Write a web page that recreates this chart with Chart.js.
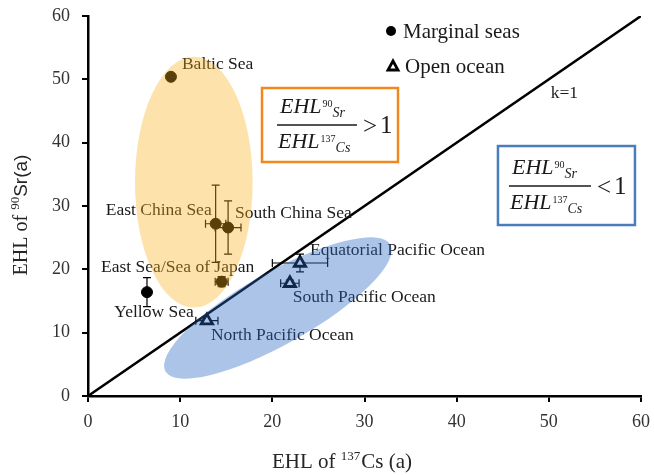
<!DOCTYPE html>
<html>
<head>
<meta charset="utf-8">
<script src="https://cdn.jsdelivr.net/npm/chart.js@4.4.0/dist/chart.umd.min.js"></script>
<style>
  html, body { margin: 0; padding: 0; background: #fff; }
  #wrap { width: 654px; height: 475px; }
</style>
</head>
<body>
<div id="wrap"><canvas id="c"></canvas></div>
<script>
// marginal seas
const seaNames = ['Baltic Sea', 'East China Sea', 'South China Sea', 'East Sea/Sea of Japan', 'Yellow Sea'];
const seaCs = [9.0, 13.85, 15.2, 14.5, 6.4];
const seaSr = [50.4, 27.2, 26.6, 18.05, 16.4];
const seaCsErr = [0, 1.1, 1.4, 0.7, 0];
const seaSrErr = [0, 6.1, 4.2, 0.8, 2.3];

// open ocean
const oceanNames = ['Equatorial Pacific Ocean', 'South Pacific Ocean', 'North Pacific Ocean'];
const oceanCs = [23.0, 21.9, 12.9];
const oceanSr = [21.0, 17.8, 11.9];
const oceanCsErr = [3.0, 1.0, 1.2];
const oceanSrErr = [1.4, 0.5, 0];

// k=1 reference line ends
const kLineX = [0, 60];
const axisMin = 0, axisMax = 60, axisStep = 10;

// label placement (px offset from the point, alignment)
const seaLabelPos = [[11, -12, 'left'], [-4, -13, 'right'], [7, -14, 'left'], [-44, -14, 'center'], [7, 20, 'center']];
const oceanLabelPos = [[10, -13, 'left'], [3, 14, 'left'], [4, 15, 'left']];

const SERIF = '"Liberation Serif", "Times New Roman", serif';
const INK = '#1a1a1a';

function pts(xs, ys) { return xs.map((x, i) => ({ x: x, y: ys[i] })); }

const errorBars = {
  id: 'errorBars',
  beforeDatasetsDraw(chart) {
    const ctx = chart.ctx, sx = chart.scales.x, sy = chart.scales.y;
    const groups = [[seaCs, seaSr, seaCsErr, seaSrErr], [oceanCs, oceanSr, oceanCsErr, oceanSrErr]];
    ctx.save();
    ctx.strokeStyle = '#000';
    ctx.lineWidth = 1.2;
    const cap = 4;
    groups.forEach(([xs, ys, ex, ey]) => {
      xs.forEach((x, i) => {
        const px = sx.getPixelForValue(x), py = sy.getPixelForValue(ys[i]);
        ctx.beginPath();
        if (ey[i] > 0) {
          const t = sy.getPixelForValue(ys[i] + ey[i]), b = sy.getPixelForValue(ys[i] - ey[i]);
          ctx.moveTo(px, t); ctx.lineTo(px, b);
          ctx.moveTo(px - cap, t); ctx.lineTo(px + cap, t);
          ctx.moveTo(px - cap, b); ctx.lineTo(px + cap, b);
        }
        if (ex[i] > 0) {
          const l = sx.getPixelForValue(x - ex[i]), r = sx.getPixelForValue(x + ex[i]);
          ctx.moveTo(l, py); ctx.lineTo(r, py);
          ctx.moveTo(l, py - cap); ctx.lineTo(l, py + cap);
          ctx.moveTo(r, py - cap); ctx.lineTo(r, py + cap);
        }
        ctx.stroke();
      });
    });
    ctx.restore();
  }
};

function drawFrac(ctx, x0, lineY, lineW, sign) {
  ctx.save();
  ctx.fillStyle = INK;
  ctx.textBaseline = 'alphabetic';
  ctx.textAlign = 'left';
  const parts = (bx, by, iso, el) => {
    ctx.font = 'italic 22px ' + SERIF;
    ctx.fillText('EHL', bx, by);
    let w = ctx.measureText('EHL').width;
    ctx.font = '10px ' + SERIF;
    ctx.fillText(iso, bx + w + 1, by - 6);
    const w2 = ctx.measureText(iso).width;
    ctx.font = 'italic 14px ' + SERIF;
    ctx.fillText(el, bx + w + 1 + w2, by + 4);
  };
  parts(x0 + 3, lineY - 12, '90', 'Sr');
  ctx.strokeStyle = INK;
  ctx.lineWidth = 1.3;
  ctx.beginPath();
  ctx.moveTo(x0, lineY); ctx.lineTo(x0 + lineW, lineY);
  ctx.stroke();
  parts(x0 + 1, lineY + 23, '137', 'Cs');
  ctx.font = '25px ' + SERIF;
  ctx.textBaseline = 'middle';
  ctx.fillText(sign, x0 + lineW + 6, lineY + 2);
  ctx.fillText('1', x0 + lineW + 23, lineY + 1);
  ctx.restore();
}

const overlay = {
  id: 'overlay',
  afterDatasetsDraw(chart) {
    const ctx = chart.ctx, sx = chart.scales.x, sy = chart.scales.y;
    ctx.save();
    // point labels
    ctx.font = '17.5px ' + SERIF;
    ctx.fillStyle = INK;
    ctx.textBaseline = 'middle';
    const lab = (names, xs, ys, pos) => names.forEach((n, i) => {
      ctx.textAlign = pos[i][2];
      ctx.fillText(n, sx.getPixelForValue(xs[i]) + pos[i][0], sy.getPixelForValue(ys[i]) + pos[i][1]);
    });
    lab(seaNames, seaCs, seaSr, seaLabelPos);
    lab(oceanNames, oceanCs, oceanSr, oceanLabelPos);
    ctx.textAlign = 'left';
    ctx.fillText('k=1', sx.getPixelForValue(50.2), sy.getPixelForValue(47.8));

    // shaded groups (drawn over the marks, translucent)
    const oc = [11.48, 33.76], orad = [6.38, 19.8];
    const ocx = sx.getPixelForValue(oc[0]), ocy = sy.getPixelForValue(oc[1]);
    ctx.fillStyle = 'rgba(250,176,22,0.36)';
    ctx.beginPath();
    ctx.ellipse(ocx, ocy,
      sx.getPixelForValue(oc[0] + orad[0]) - ocx,
      ocy - sy.getPixelForValue(oc[1] + orad[1]), 0, 0, Math.PI * 2);
    ctx.fill();

    const bFrom = [8.4, 3.9], bTo = [32.8, 23.9];
    const x1 = sx.getPixelForValue(bFrom[0]), y1 = sy.getPixelForValue(bFrom[1]);
    const x2 = sx.getPixelForValue(bTo[0]), y2 = sy.getPixelForValue(bTo[1]);
    ctx.fillStyle = 'rgba(38,103,192,0.39)';
    ctx.beginPath();
    ctx.ellipse((x1 + x2) / 2, (y1 + y2) / 2, Math.hypot(x2 - x1, y2 - y1) / 2, 36,
      Math.atan2(y2 - y1, x2 - x1), 0, Math.PI * 2);
    ctx.fill();

    // ratio boxes
    const boxes = [
      { at: [18.88, 48.63], w: 136, h: 74, color: '#f0891c', lx: 15, ly: 37, lw: 80, sign: '>' },
      { at: [44.48, 39.47], w: 137, h: 79, color: '#4a7ebb', lx: 11, ly: 40, lw: 82, sign: '<' }
    ];
    boxes.forEach(b => {
      const bx = sx.getPixelForValue(b.at[0]), by = sy.getPixelForValue(b.at[1]);
      ctx.fillStyle = '#fff';
      ctx.fillRect(bx, by, b.w, b.h);
      ctx.strokeStyle = b.color;
      ctx.lineWidth = 2.5;
      ctx.strokeRect(bx, by, b.w, b.h);
      drawFrac(ctx, bx + b.lx, by + b.ly, b.lw, b.sign);
    });

    // legend
    ctx.fillStyle = '#000';
    ctx.beginPath();
    ctx.arc(391, 31, 5, 0, Math.PI * 2);
    ctx.fill();
    ctx.strokeStyle = '#000';
    ctx.lineWidth = 2.8;
    ctx.beginPath();
    ctx.moveTo(393, 61); ctx.lineTo(398, 70); ctx.lineTo(388, 70); ctx.closePath();
    ctx.stroke();
    ctx.font = '21px ' + SERIF;
    ctx.fillStyle = INK;
    ctx.textAlign = 'left';
    ctx.textBaseline = 'middle';
    ctx.fillText('Marginal seas', 403, 32);
    ctx.fillText('Open ocean', 405, 67);
    ctx.restore();
  },
  afterDraw(chart) {
    const ctx = chart.ctx;
    ctx.save();
    ctx.fillStyle = '#262626';
    ctx.textBaseline = 'alphabetic';
    ctx.textAlign = 'left';
    // x title
    const a = 'EHL of ', s = '137', b = 'Cs (a)';
    ctx.font = '21px ' + SERIF; const wa = ctx.measureText(a).width, wb = ctx.measureText(b).width;
    ctx.font = '13px ' + SERIF; const ws = ctx.measureText(s).width;
    let x = 342 - (wa + ws + wb + 1) / 2;
    ctx.font = '21px ' + SERIF; ctx.fillText(a, x, 468);
    ctx.font = '13px ' + SERIF; ctx.fillText(s, x + wa, 460);
    ctx.font = '21px ' + SERIF; ctx.fillText(b, x + wa + ws + 1, 468);
    // y title
    ctx.translate(27, 215);
    ctx.rotate(-Math.PI / 2);
    const c = 'EHL of ', t = '90', d = 'Sr(a)';
    ctx.font = '20px ' + SERIF; const wc = ctx.measureText(c).width;
    ctx.font = '13px ' + SERIF; const wt = ctx.measureText(t).width;
    ctx.font = '19px "Liberation Sans", Arial, sans-serif'; const wd = ctx.measureText(d).width;
    x = -(wc + wt + wd) / 2;
    ctx.font = '20px ' + SERIF; ctx.fillText(c, x, 0);
    ctx.font = '13px ' + SERIF; ctx.fillText(t, x + wc, -8);
    ctx.font = '19px "Liberation Sans", Arial, sans-serif'; ctx.fillText(d, x + wc + wt, 0);
    ctx.restore();
  }
};

const axisCommon = {
  type: 'linear',
  min: axisMin,
  max: axisMax,
  border: { color: '#000', width: 2.5 },
  grid: { display: true, drawOnChartArea: false, drawTicks: true, tickLength: 6, color: '#000', lineWidth: 2 },
  title: { display: false }
};

new Chart(document.getElementById('c'), {
  type: 'scatter',
  data: {
    datasets: [
      {
        label: 'Marginal seas',
        data: pts(seaCs, seaSr),
        pointStyle: 'circle',
        pointRadius: 5.5,
        backgroundColor: '#000',
        borderColor: '#000',
        order: 0
      },
      {
        label: 'Open ocean',
        data: pts(oceanCs, oceanSr),
        pointStyle: 'triangle',
        pointRadius: 6.5,
        backgroundColor: '#fff',
        borderColor: '#000',
        borderWidth: 2.8,
        order: 0
      },
      {
        label: 'k=1',
        data: pts(kLineX, kLineX),
        showLine: true,
        borderColor: '#000',
        borderWidth: 2.5,
        pointRadius: 0,
        order: 5
      }
    ]
  },
  options: {
    responsive: true,
    maintainAspectRatio: false,
    animation: false,
    layout: { padding: { top: 16, right: 13, left: 0, bottom: 0 } },
    plugins: { legend: { display: false }, tooltip: { enabled: false } },
    scales: {
      x: Object.assign({}, axisCommon, {
        position: 'bottom',
        ticks: { stepSize: axisStep, padding: 9, color: '#333', font: { family: SERIF, size: 18 } },
        afterFit(scale) { scale.height = 79; scale.paddingLeft = 0; scale.paddingRight = 0; }
      }),
      y: Object.assign({}, axisCommon, {
        position: 'left',
        ticks: { stepSize: axisStep, padding: 12, color: '#333', font: { family: SERIF, size: 18 } },
        afterFit(scale) { scale.width = 88; scale.paddingTop = 0; scale.paddingBottom = 0; }
      })
    }
  },
  plugins: [errorBars, overlay]
});
</script>
</body>
</html>
